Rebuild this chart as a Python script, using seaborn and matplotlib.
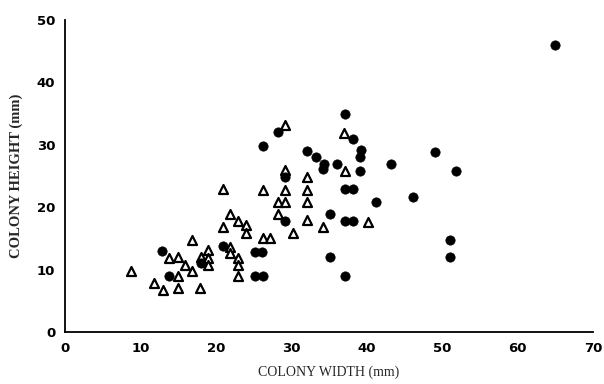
import matplotlib
matplotlib.use("Agg")
import matplotlib.pyplot as plt
import seaborn as sns
import pandas as pd
from matplotlib.ticker import MultipleLocator

# --- data (mm) ---
filled_width = [12.9, 13.8, 18.0, 20.9, 25.2, 26.1, 25.2, 26.3, 26.3, 28.3,
                29.2, 29.2, 32.1, 33.3, 34.3, 34.2, 35.2, 35.1, 36.1, 37.1,
                37.1, 38.2, 37.1, 38.2, 37.1, 38.2, 39.2, 39.1, 39.1, 41.2,
                43.2, 46.2, 49.1, 51.1, 51.1, 51.9, 65.0]
filled_height = [13.0, 8.9, 11.0, 13.8, 12.9, 12.9, 9.0, 9.0, 29.8, 32.1,
                 24.9, 17.8, 29.0, 28.1, 27.0, 26.1, 18.9, 12.1, 27.0, 35.0,
                 22.9, 22.9, 17.8, 17.8, 9.0, 31.0, 29.1, 28.0, 25.8, 20.8,
                 26.9, 21.7, 28.9, 14.8, 12.0, 25.8, 46.0]

open_width = [8.8, 11.8, 13.0, 13.8, 15.0, 15.0, 15.0, 15.9, 16.8, 16.8,
              17.9, 18.0, 18.9, 18.9, 18.9, 21.0, 21.0, 21.9, 21.9, 21.9,
              22.9, 22.9, 22.9, 22.9, 24.0, 24.0, 26.2, 27.2, 26.3, 28.3,
              29.2, 28.3, 29.2, 29.2, 29.2, 30.3, 32.1, 32.1, 32.1, 32.1,
              34.2, 37.0, 37.1, 40.2]
open_height = [9.7, 7.9, 6.8, 11.8, 12.0, 8.9, 7.0, 10.7, 9.7, 14.8,
               7.0, 12.0, 13.1, 11.8, 10.7, 22.9, 16.8, 18.9, 13.7, 12.7,
               17.8, 11.8, 10.7, 8.9, 17.1, 15.8, 15.0, 15.0, 22.8, 20.9,
               20.9, 18.9, 33.2, 26.0, 22.8, 15.9, 24.9, 22.8, 20.8, 17.9,
               16.9, 31.9, 25.8, 17.7]

x_ticks = [0, 10, 20, 30, 40, 50, 60, 70]
y_ticks = [0, 10, 20, 30, 40, 50]

df_filled = pd.DataFrame({"width": filled_width, "height": filled_height})
df_open = pd.DataFrame({"width": open_width, "height": open_height})

sns.set_style("white")
fig = plt.figure(figsize=(6.04, 3.84), dpi=100)
ax = fig.add_axes([0.1076, 0.1354, 0.874, 0.8125])

sns.scatterplot(data=df_open, x="width", y="height", ax=ax, marker="^",
                s=42, facecolor="white", edgecolor="black", linewidth=1.6,
                zorder=3)
sns.scatterplot(data=df_filled, x="width", y="height", ax=ax, marker="o",
                s=45, color="black", edgecolor="black", linewidth=0.5,
                zorder=4)

ax.set_xlim(0, 70)
ax.set_ylim(0, 50)
ax.set_xticks(x_ticks)
ax.set_yticks(y_ticks)
ax.xaxis.set_minor_locator(MultipleLocator(5))
ax.yaxis.set_minor_locator(MultipleLocator(5))

for side in ["top", "right"]:
    ax.spines[side].set_visible(False)
for side in ["left", "bottom"]:
    ax.spines[side].set_color("black")
    ax.spines[side].set_linewidth(1.3)

ax.tick_params(axis="x", which="major", direction="inout", length=6, width=1.2,
               colors="black", pad=4)
ax.tick_params(axis="x", which="minor", direction="inout", length=4, width=1.0,
               colors="black")
ax.tick_params(axis="y", which="major", direction="out", length=4, width=1.2,
               colors="black", pad=3)
ax.tick_params(axis="y", which="minor", direction="out", length=2, width=1.0,
               colors="black")
for lbl in ax.get_xticklabels() + ax.get_yticklabels():
    lbl.set_fontsize(9.5)
    lbl.set_fontweight("bold")
    lbl.set_family("DejaVu Sans")

ax.set_xlabel("COLONY WIDTH (mm)", fontsize=10, family="Liberation Serif",
              labelpad=8)
ax.set_ylabel("COLONY HEIGHT (mm)", fontsize=10.5, family="Liberation Serif",
              fontweight="bold", labelpad=10)

fig.savefig("out.png", dpi=100, facecolor="white")
